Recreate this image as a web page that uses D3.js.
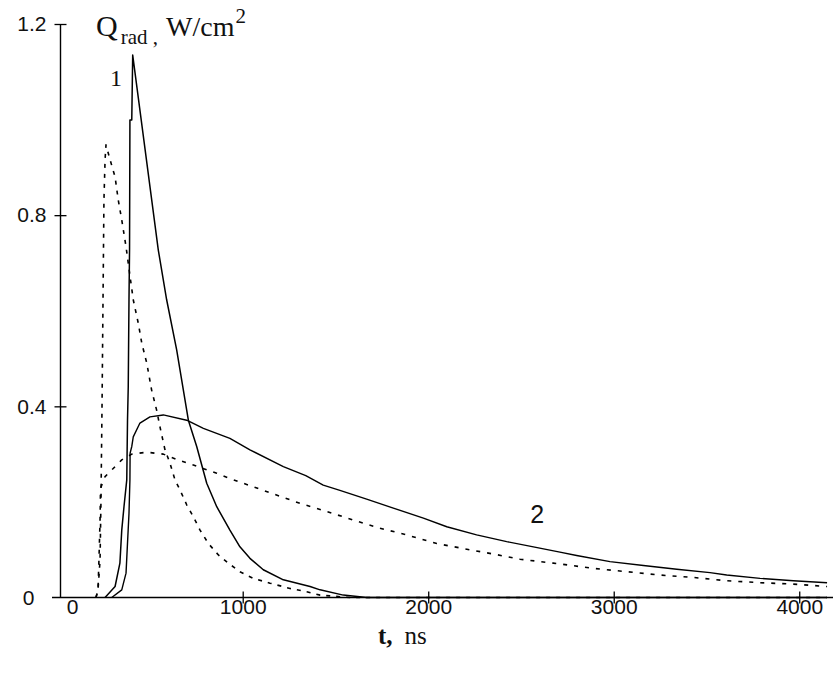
<!DOCTYPE html>
<html><head><meta charset="utf-8">
<script src="https://cdn.jsdelivr.net/npm/d3@7"></script>
<style>
html,body{margin:0;padding:0;background:#fff;}
svg{display:block;}
</style></head>
<body>
<svg id="chart" width="833" height="675"></svg>
<script>
// ---- data (t in ns, Q_rad in W/cm^2) ----
const tSolid1 = [258, 312, 338, 348, 360, 375, 379, 383, 387, 390, 392, 402, 407, 545, 590, 644, 707, 752, 806, 860, 931, 985, 1039, 1111, 1219, 1363, 1417, 1542, 1668, 4150];
const qSolid1 = [0, 0.023, 0.072, 0.141, 0.190, 0.246, 0.371, 0.441, 0.623, 0.728, 0.999, 0.999, 1.135, 0.727, 0.623, 0.518, 0.371, 0.316, 0.239, 0.190, 0.141, 0.106, 0.082, 0.058, 0.037, 0.023, 0.016, 0.005, 0, 0];

const tSolid2 = [294, 348, 371, 378, 387, 392, 393, 402, 410, 446, 500, 572, 698, 788, 931, 1039, 1219, 1340, 1434, 1524, 1668, 1812, 1974, 2100, 2261, 2423, 2567, 2710, 2800, 2980, 3160, 3340, 3519, 3609, 3789, 3968, 4150];
const qSolid2 = [0, 0.016, 0.051, 0.106, 0.176, 0.246, 0.302, 0.316, 0.336, 0.365, 0.378, 0.382, 0.371, 0.354, 0.333, 0.309, 0.274, 0.255, 0.235, 0.224, 0.206, 0.187, 0.166, 0.148, 0.131, 0.117, 0.106, 0.095, 0.088, 0.075, 0.067, 0.059, 0.052, 0.047, 0.040, 0.035, 0.031];

const tDash1 = [209, 220, 231, 236, 242, 247, 252, 258, 263, 285, 312, 329, 348, 371, 393, 410, 437, 456, 483, 509, 536, 554, 581, 608, 635, 662, 698, 734, 770, 815, 869, 922, 985, 1057, 1147, 1255, 1345, 1417, 1579, 4150];
const qDash1 = [0, 0.016, 0.078, 0.204, 0.413, 0.623, 0.832, 0.916, 0.947, 0.916, 0.880, 0.832, 0.790, 0.734, 0.671, 0.623, 0.574, 0.532, 0.490, 0.434, 0.392, 0.357, 0.309, 0.281, 0.246, 0.225, 0.194, 0.169, 0.141, 0.113, 0.089, 0.072, 0.054, 0.040, 0.030, 0.019, 0.012, 0.005, 0, 0];

const tDash2 = [209, 220, 225, 231, 233, 236, 258, 302, 348, 402, 483, 572, 644, 734, 860, 931, 1076, 1309, 1453, 1596, 1740, 1884, 2046, 2208, 2351, 2495, 2674, 2890, 3070, 3250, 3429, 3609, 3789, 3968, 4150];
const qDash2 = [0, 0.016, 0.078, 0.162, 0.215, 0.231, 0.253, 0.270, 0.288, 0.300, 0.304, 0.300, 0.289, 0.277, 0.260, 0.249, 0.229, 0.197, 0.180, 0.162, 0.145, 0.131, 0.113, 0.101, 0.091, 0.080, 0.072, 0.061, 0.054, 0.047, 0.042, 0.035, 0.031, 0.028, 0.023];

const xTicks = [0, 1000, 2000, 3000, 4000];
const yTicks = [0, 0.4, 0.8, 1.2];
const curveLabels = [{text: "1", t: 285, q: 1.07, font: "serif"}, {text: "2", t: 2550, q: 0.155, font: "sans"}];

// ---- drawing ----
const svg = d3.select("#chart");
const x = d3.scaleLinear().domain([0, 4182]).range([57.2, 833]);
const y = d3.scaleLinear().domain([0, 1.2]).range([597.5, 24]);

const serif = "'Liberation Serif','Times New Roman',serif";
const sans = "'Liberation Sans',Arial,sans-serif";

// axis lines
svg.append("line").attr("x1", 60.5).attr("x2", 60.5).attr("y1", y(1.2)).attr("y2", y(0))
  .attr("stroke", "#000").attr("stroke-width", 1.4);
svg.append("line").attr("x1", 52).attr("x2", 833).attr("y1", y(0)).attr("y2", y(0))
  .attr("stroke", "#000").attr("stroke-width", 1.4);

// y axis ticks + labels
const yAx = svg.append("g").attr("transform", "translate(66.5,0)")
  .call(d3.axisLeft(y).tickValues(yTicks).tickSize(12).tickPadding(8)
    .tickFormat(d => d === 0 ? "0" : d3.format(".1f")(d)));
yAx.select(".domain").remove();
yAx.selectAll(".tick line").attr("stroke", "#000").attr("stroke-width", 1.3)
  .filter(d => d === 0).remove();
yAx.selectAll(".tick text").attr("font-family", sans).attr("font-size", 21).attr("fill", "#111")
  .attr("x", d => d === 0 ? -32 : -20);

// x axis ticks + labels
const xAx = svg.append("g").attr("transform", `translate(0,${y(0) - 6})`)
  .call(d3.axisBottom(x).tickValues(xTicks).tickSize(12).tickFormat(d3.format("d")));
xAx.select(".domain").remove();
xAx.selectAll(".tick line").attr("stroke", "#000").attr("stroke-width", 1.3)
  .filter(d => d === 0).remove();
xAx.selectAll(".tick text").attr("font-family", sans).attr("font-size", 21).attr("fill", "#111")
  .attr("y", 22).attr("dy", 0)
  .attr("x", d => d === 0 ? 15 : 0);

// lines
const line = d3.line().x(d => x(d[0])).y(d => y(d[1]));
const series = [
  {t: tSolid1, q: qSolid1, dash: null, w: 1.5},
  {t: tSolid2, q: qSolid2, dash: null, w: 1.4},
  {t: tDash1, q: qDash1, dash: "4,6", w: 1.6},
  {t: tDash2, q: qDash2, dash: "4,7", w: 1.6}
];
series.forEach(s => {
  svg.append("path").datum(s.t.map((t, i) => [t, s.q[i]]))
    .attr("d", line).attr("fill", "none").attr("stroke", "#000")
    .attr("stroke-width", s.w).attr("stroke-linejoin", "round")
    .attr("stroke-dasharray", s.dash);
});

// curve labels
curveLabels.forEach(l => {
  svg.append("text").attr("x", x(l.t)).attr("y", y(l.q))
    .attr("font-family", l.font === "serif" ? serif : sans)
    .attr("font-size", l.font === "serif" ? 24 : 25)
    .attr("fill", "#111").text(l.text);
});

// y title
const yt = svg.append("text").attr("x", 96).attr("y", 36)
  .attr("font-family", serif).attr("font-size", 30).attr("fill", "#111");
yt.append("tspan").text("Q");
yt.append("tspan").attr("font-size", 21).attr("dx", 3).attr("dy", 8).text("rad ,");
yt.append("tspan").attr("dy", -8).attr("dx", 8).attr("font-size", 28).text("W/cm");
yt.append("tspan").attr("font-size", 21).attr("dy", -13).attr("dx", 1).text("2");

// x title
const xt = svg.append("text").attr("x", 378).attr("y", 644)
  .attr("font-family", serif).attr("font-size", 25).attr("fill", "#111");
xt.append("tspan").attr("font-weight", "bold").text("t,");
xt.append("tspan").attr("dx", 12).text("ns");
</script>
</body></html>
